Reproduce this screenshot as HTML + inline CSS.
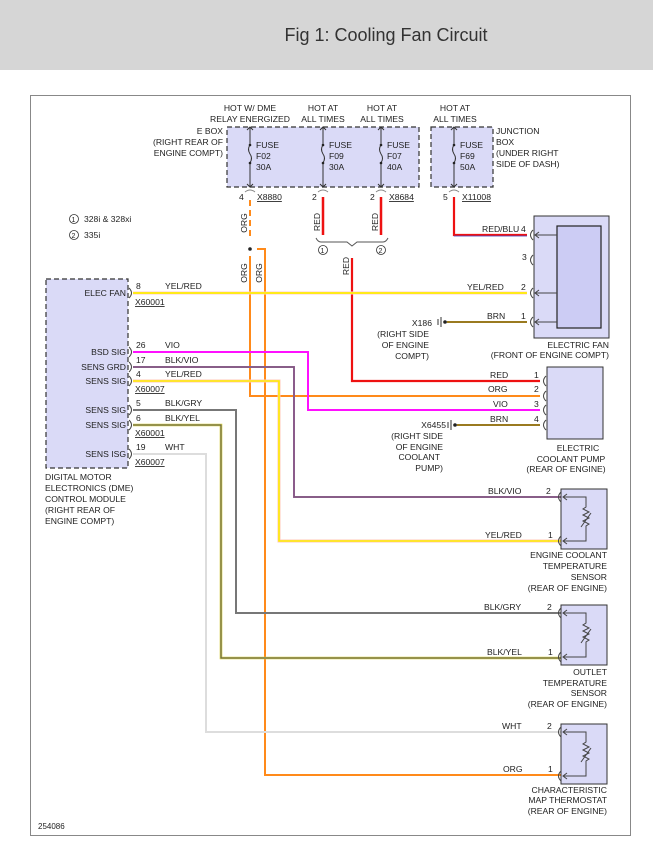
<!DOCTYPE html>
<html><head><meta charset="utf-8"><style>
html,body{margin:0;padding:0;background:#fff;width:653px;height:852px;overflow:hidden}
svg{display:block}
text{font-family:"Liberation Sans",Arial,sans-serif;font-size:8.6px;fill:#222}
</style></head><body>
<svg width="653" height="852" viewBox="0 0 653 852" xmlns="http://www.w3.org/2000/svg">
<rect x="0" y="0" width="653" height="70" fill="#d6d6d6"/>
<text x="386" y="41" text-anchor="middle" style="font-size:18px;fill:#333">Fig 1: Cooling Fan Circuit</text>
<rect x="30.5" y="95.5" width="600" height="740" fill="#fff" stroke="#888" stroke-width="1"/>

<rect x="227" y="127" width="192" height="60" fill="#dadaf7" stroke="#333" stroke-dasharray="5,3" stroke-width="1.2"/>
<rect x="431" y="127" width="62" height="60" fill="#dadaf7" stroke="#333" stroke-dasharray="5,3" stroke-width="1.2"/>
<g stroke="#333" stroke-width="1" fill="none">
<path d="M250 127V145 M250 163V187 M250 145 q-3 4 0 9 q3 4 0 9"/>
<path d="M323 127V145 M323 163V187 M323 145 q-3 4 0 9 q3 4 0 9"/>
<path d="M381 127V145 M381 163V187 M381 145 q-3 4 0 9 q3 4 0 9"/>
<path d="M454 127V145 M454 163V187 M454 145 q-3 4 0 9 q3 4 0 9"/>
<path d="M247 130l3-3 3 3M320 130l3-3 3 3M378 130l3-3 3 3M451 130l3-3 3 3"/>
<path d="M247 184l3 3 3-3M320 184l3 3 3-3M378 184l3 3 3-3M451 184l3 3 3-3"/>
<path d="M245 192q5-4 10 0M318 192q5-4 10 0M376 192q5-4 10 0M449 192q5-4 10 0" stroke="#888"/>
</g>
<g fill="#222"><circle cx="250" cy="145" r="1.3"/><circle cx="250" cy="163" r="1.3"/><circle cx="323" cy="145" r="1.3"/><circle cx="323" cy="163" r="1.3"/><circle cx="381" cy="145" r="1.3"/><circle cx="381" cy="163" r="1.3"/><circle cx="454" cy="145" r="1.3"/><circle cx="454" cy="163" r="1.3"/></g>
<text x="256" y="148">FUSE</text><text x="256" y="159">F02</text><text x="256" y="170">30A</text>
<text x="329" y="148">FUSE</text><text x="329" y="159">F09</text><text x="329" y="170">30A</text>
<text x="387" y="148">FUSE</text><text x="387" y="159">F07</text><text x="387" y="170">40A</text>
<text x="460" y="148">FUSE</text><text x="460" y="159">F69</text><text x="460" y="170">50A</text>
<g text-anchor="middle">
<text x="250" y="111">HOT W/ DME</text><text x="250" y="122">RELAY ENERGIZED</text>
<text x="323" y="111">HOT AT</text><text x="323" y="122">ALL TIMES</text>
<text x="382" y="111">HOT AT</text><text x="382" y="122">ALL TIMES</text>
<text x="455" y="111">HOT AT</text><text x="455" y="122">ALL TIMES</text>
</g>
<g text-anchor="end"><text x="223" y="134">E BOX</text><text x="223" y="145">(RIGHT REAR OF</text><text x="223" y="156">ENGINE COMPT)</text></g>
<text x="496" y="134">JUNCTION</text><text x="496" y="145">BOX</text><text x="496" y="156">(UNDER RIGHT</text><text x="496" y="167">SIDE OF DASH)</text>
<text x="239" y="200">4</text><text x="257" y="200" text-decoration="underline">X8880</text>
<text x="312" y="200">2</text><text x="370" y="200">2</text><text x="389" y="200" text-decoration="underline">X8684</text>
<text x="443" y="200">5</text><text x="462" y="200" text-decoration="underline">X11008</text>

<circle cx="74" cy="219" r="4.5" fill="none" stroke="#333" stroke-width="0.8"/><text x="71.5" y="222" style="font-size:7px">1</text><text x="84" y="222">328i &amp; 328xi</text>
<circle cx="74" cy="235" r="4.5" fill="none" stroke="#333" stroke-width="0.8"/><text x="71.5" y="238" style="font-size:7px">2</text><text x="84" y="238">335i</text>

<g fill="none" stroke-linejoin="miter">
<path d="M250 200V240" stroke="#ff8a1a" stroke-width="2" stroke-dasharray="6,4"/>
<path d="M250 256V396H540" stroke="#ff8a1a" stroke-width="2"/>
<path d="M257 249H265V775H562" stroke="#ff8a1a" stroke-width="2"/>
<path d="M323 197V235M381 197V235" stroke="#ee1111" stroke-width="2.5"/>
<path d="M316 238q2 4 5 4h26l5 4 5-4h26q3 0 5-4" stroke="#555" stroke-width="1"/>
<path d="M352 258V381H540" stroke="#ee1111" stroke-width="2.2"/>
<path d="M454 197V235H527" stroke="#ee1111" stroke-width="2.2"/>
<path d="M454 235H527" stroke="#4444cc" stroke-width="0.8" transform="translate(0,1)"/>
<path d="M133 293H527" stroke="#ffcccc" stroke-width="3"/>
<path d="M133 293H527" stroke="#ffee00" stroke-width="1.8"/>
<path d="M133 352H308V410H540" stroke="#ff10ff" stroke-width="2"/>
<path d="M133 367H294V497H562" stroke="#aa55aa" stroke-width="2"/>
<path d="M133 367H294V497H562" stroke="#666" stroke-width="0.9"/>
<path d="M133 381H279V541H562" stroke="#ffc8b8" stroke-width="3"/>
<path d="M133 381H279V541H562" stroke="#ffee00" stroke-width="1.6"/>
<path d="M133 410H236V613H562" stroke="#777" stroke-width="2"/>
<path d="M133 425H221V658H562" stroke="#d8d040" stroke-width="2.6"/>
<path d="M133 425H221V658H562" stroke="#555" stroke-width="1"/>
<path d="M133 454H206V732H562" stroke="#ddd" stroke-width="2"/>
<path d="M447 322H527M457 425H540" stroke="#9a7a20" stroke-width="2"/>
</g>
<circle cx="250" cy="249" r="1.8" fill="#222"/>
<circle cx="323" cy="250" r="4.5" fill="none" stroke="#333" stroke-width="0.8"/><text x="320.5" y="253" style="font-size:7px">1</text>
<circle cx="381" cy="250" r="4.5" fill="none" stroke="#333" stroke-width="0.8"/><text x="378.5" y="253" style="font-size:7px">2</text>
<g text-anchor="middle">
<text transform="translate(247,223) rotate(-90)">ORG</text>
<text transform="translate(247,273) rotate(-90)">ORG</text>
<text transform="translate(262,273) rotate(-90)">ORG</text>
<text transform="translate(320,222) rotate(-90)">RED</text>
<text transform="translate(378,222) rotate(-90)">RED</text>
<text transform="translate(349,266) rotate(-90)">RED</text>
</g>

<rect x="46" y="279" width="82" height="189" fill="#dadaf7" stroke="#333" stroke-dasharray="5,3" stroke-width="1.2"/>
<g fill="none" stroke="#444" stroke-width="1">
<path d="M129 288q5 5 0 10M129 347q5 5 0 10M129 362q5 5 0 10M129 376q5 5 0 10M129 405q5 5 0 10M129 420q5 5 0 10M129 449q5 5 0 10"/>
</g>
<g text-anchor="end">
<text x="126" y="296">ELEC FAN</text><text x="126" y="355">BSD SIG</text><text x="126" y="370">SENS GRD</text><text x="126" y="384">SENS SIG</text><text x="126" y="413">SENS SIG</text><text x="126" y="428">SENS SIG</text><text x="126" y="457">SENS ISG</text>
</g>
<text x="136" y="289">8</text><text x="165" y="289">YEL/RED</text><text x="135" y="305" text-decoration="underline">X60001</text>
<text x="136" y="348">26</text><text x="165" y="348">VIO</text>
<text x="136" y="363">17</text><text x="165" y="363">BLK/VIO</text>
<text x="136" y="377">4</text><text x="165" y="377">YEL/RED</text><text x="135" y="392" text-decoration="underline">X60007</text>
<text x="136" y="406">5</text><text x="165" y="406">BLK/GRY</text>
<text x="136" y="421">6</text><text x="165" y="421">BLK/YEL</text><text x="135" y="436" text-decoration="underline">X60001</text>
<text x="136" y="450">19</text><text x="165" y="450">WHT</text><text x="135" y="465" text-decoration="underline">X60007</text>
<text x="45" y="480">DIGITAL MOTOR</text><text x="45" y="491">ELECTRONICS (DME)</text><text x="45" y="502">CONTROL MODULE</text><text x="45" y="513">(RIGHT REAR OF</text><text x="45" y="524">ENGINE COMPT)</text>

<rect x="534" y="216" width="75" height="122" fill="#dadaf7" stroke="#333" stroke-width="1"/>
<rect x="557" y="226" width="44" height="102" fill="#ccccf4" stroke="#222" stroke-width="1.2"/>
<g fill="none" stroke="#444" stroke-width="1">
<path d="M533 230q-5 5 0 10M533 255q-5 5 0 10M533 288q-5 5 0 10M533 317q-5 5 0 10"/>
<path d="M535 235H557M535 293H557M535 322H557M539 232l-4 3 4 3M539 290l-4 3 4 3M539 319l-4 3 4 3"/>
</g>
<text x="482" y="232">RED/BLU</text><text x="521" y="232">4</text>
<text x="522" y="260">3</text>
<text x="467" y="290">YEL/RED</text><text x="521" y="290">2</text>
<text x="487" y="319">BRN</text><text x="521" y="319">1</text>
<g text-anchor="end"><text x="609" y="348">ELECTRIC FAN</text><text x="609" y="358">(FRONT OF ENGINE COMPT)</text></g>
<g stroke="#333" stroke-width="1"><path d="M438 319v6M441 317v10M444 322h3"/></g><circle cx="445" cy="322" r="1.8" fill="#222"/>
<g text-anchor="end"><text x="432" y="326">X186</text><text x="429" y="337">(RIGHT SIDE</text><text x="429" y="348">OF ENGINE</text><text x="429" y="359">COMPT)</text></g>

<rect x="547" y="367" width="56" height="72" fill="#dadaf7" stroke="#333" stroke-width="1"/>
<g fill="none" stroke="#444" stroke-width="1"><path d="M546 376q-5 5 0 10M546 391q-5 5 0 10M546 405q-5 5 0 10M546 420q-5 5 0 10"/></g>
<text x="490" y="378">RED</text><text x="534" y="378">1</text>
<text x="488" y="392">ORG</text><text x="534" y="392">2</text>
<text x="493" y="407">VIO</text><text x="534" y="407">3</text>
<text x="490" y="422">BRN</text><text x="534" y="422">4</text>
<g text-anchor="middle"><text x="578" y="451">ELECTRIC</text><text x="571" y="462">COOLANT PUMP</text><text x="566" y="472">(REAR OF ENGINE)</text></g>
<g stroke="#333" stroke-width="1"><path d="M448 422v6M451 420v10M454 425h3"/></g><circle cx="455" cy="425" r="1.8" fill="#222"/>
<g text-anchor="end"><text x="446" y="428">X6455</text><text x="443" y="439">(RIGHT SIDE</text><text x="443" y="450">OF ENGINE</text><text x="440" y="460">COOLANT</text><text x="443" y="471">PUMP)</text></g>

<g id="s1">
<rect x="561" y="489" width="46" height="60" fill="#dadaf7" stroke="#333" stroke-width="1"/>
<g fill="none" stroke="#444" stroke-width="1">
<path d="M561 492q-5 5 0 10M561 536q-5 5 0 10"/>
<path d="M563 497H586V507l-3 2 6 3-6 3 6 3-6 3 6 3-3 2V541H563M567 494l-4 3 4 3M567 538l-4 3 4 3M581 527l10-14"/>
</g></g>
<use href="#s1" transform="translate(0,116)"/>
<use href="#s1" transform="translate(0,235)"/>
<text x="488" y="494">BLK/VIO</text><text x="546" y="494">2</text>
<text x="485" y="538">YEL/RED</text><text x="548" y="538">1</text>
<text x="484" y="610">BLK/GRY</text><text x="547" y="610">2</text>
<text x="487" y="655">BLK/YEL</text><text x="548" y="655">1</text>
<text x="502" y="729">WHT</text><text x="547" y="729">2</text>
<text x="503" y="772">ORG</text><text x="548" y="772">1</text>
<g text-anchor="end">
<text x="607" y="558">ENGINE COOLANT</text><text x="607" y="569">TEMPERATURE</text><text x="607" y="580">SENSOR</text><text x="607" y="591">(REAR OF ENGINE)</text>
<text x="607" y="675">OUTLET</text><text x="607" y="686">TEMPERATURE</text><text x="607" y="696">SENSOR</text><text x="607" y="707">(REAR OF ENGINE)</text>
<text x="607" y="793">CHARACTERISTIC</text><text x="607" y="803">MAP THERMOSTAT</text><text x="607" y="814">(REAR OF ENGINE)</text>
</g>
<text x="38" y="829" style="font-size:8px">254086</text>
</svg>
</body></html>
